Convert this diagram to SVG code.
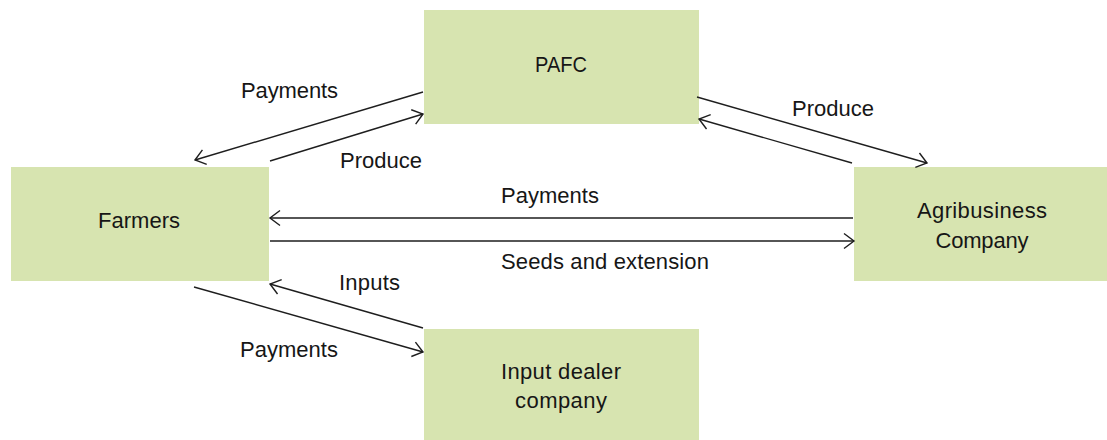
<svg xmlns="http://www.w3.org/2000/svg" width="1107" height="440" viewBox="0 0 1107 440">
<style>
.box{fill:#d7e4b0;}
text{font-family:"Liberation Sans",Arial,sans-serif;font-size:22px;fill:#161616;}
.c{text-anchor:middle;}
.ln{stroke:#1e1e1e;stroke-width:1.4;fill:none;marker-end:url(#arr);}
</style>
<defs>
<marker id="arr" viewBox="-12 -9 14 18" refX="0" refY="0" markerWidth="14" markerHeight="18" markerUnits="userSpaceOnUse" orient="auto">
<path d="M-10,-7.5 L0,0 L-10,7.5" fill="none" stroke="#1e1e1e" stroke-width="1.4"/>
</marker>
</defs>
<rect width="1107" height="440" fill="#ffffff"/>
<g id="pafc">
<rect class="box" x="424" y="10" width="275" height="114"/>
<text class="c" x="561" y="72" textLength="52" lengthAdjust="spacingAndGlyphs">PAFC</text>
</g>
<g id="farmers">
<rect class="box" x="11" y="167" width="258" height="114"/>
<text class="c" x="139" y="228" textLength="82" lengthAdjust="spacing">Farmers</text>
</g>
<g id="agribusiness">
<rect class="box" x="854" y="167" width="253" height="114"/>
<text class="c" x="982" y="218" textLength="130" lengthAdjust="spacing">Agribusiness</text>
<text class="c" x="982" y="248" textLength="93" lengthAdjust="spacing">Company</text>
</g>
<g id="inputdealer">
<rect class="box" x="424" y="329" width="275" height="111"/>
<text class="c" x="561" y="379" textLength="120" lengthAdjust="spacing">Input dealer</text>
<text class="c" x="561" y="408" textLength="92" lengthAdjust="spacing">company</text>
</g>
<g id="connectors">
<line class="ln" x1="423" y1="92" x2="195" y2="160"/>
<line class="ln" x1="270" y1="161" x2="423" y2="114"/>
<line class="ln" x1="697" y1="97" x2="927" y2="163"/>
<line class="ln" x1="852" y1="163" x2="699" y2="119"/>
<line class="ln" x1="853" y1="218" x2="270" y2="218"/>
<line class="ln" x1="270" y1="241" x2="854" y2="241"/>
<line class="ln" x1="423" y1="328" x2="270" y2="284"/>
<line class="ln" x1="194" y1="287" x2="423" y2="352"/>
<text x="241" y="98" textLength="97" lengthAdjust="spacing">Payments</text>
<text x="340" y="168" textLength="82" lengthAdjust="spacing">Produce</text>
<text x="792" y="116" textLength="82" lengthAdjust="spacing">Produce</text>
<text x="501" y="203" textLength="98" lengthAdjust="spacing">Payments</text>
<text x="501" y="269" textLength="208" lengthAdjust="spacing">Seeds and extension</text>
<text x="339" y="290" textLength="61" lengthAdjust="spacing">Inputs</text>
<text x="240" y="357" textLength="98" lengthAdjust="spacing">Payments</text>
</g>
</svg>
